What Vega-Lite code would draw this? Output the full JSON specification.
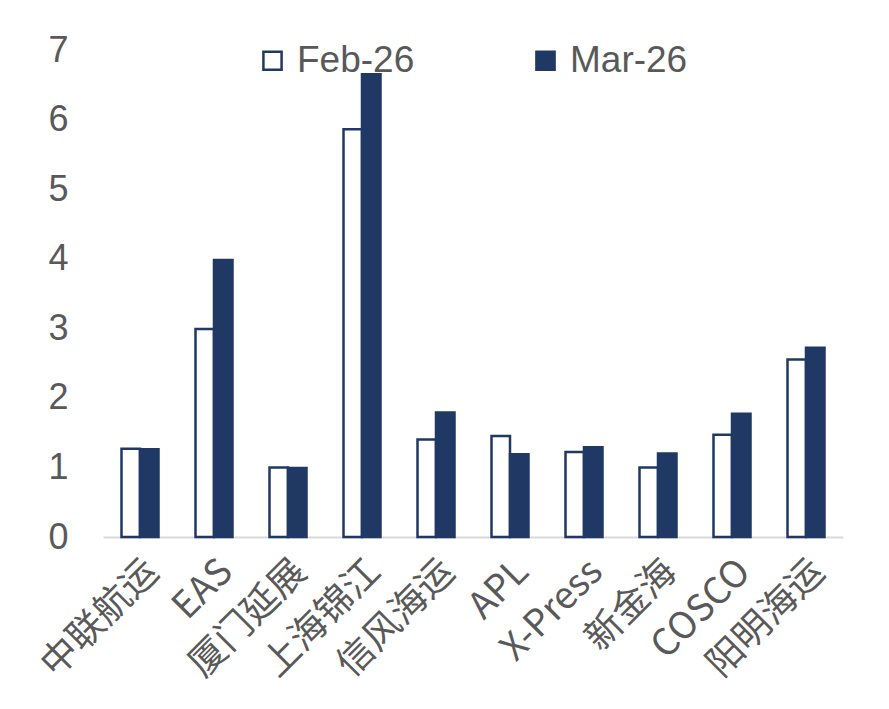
{
  "$schema": "https://vega.github.io/schema/vega-lite/v6.json",
  "autosize": {"type": "none"},
  "width": 740,
  "height": 487,
  "padding": {"left": 103, "top": 50, "right": 46, "bottom": 172},
  "background": "white",
  "config": {
    "view": {"stroke": null},
    "font": "Noto Sans CJK SC"
  },
  "data": {
    "values": [
      {"company": "中联航运", "month": "Feb-26", "value": 1.27},
      {"company": "中联航运", "month": "Mar-26", "value": 1.26},
      {"company": "EAS", "month": "Feb-26", "value": 2.99},
      {"company": "EAS", "month": "Mar-26", "value": 3.98},
      {"company": "厦门延展", "month": "Feb-26", "value": 1.0},
      {"company": "厦门延展", "month": "Mar-26", "value": 0.99},
      {"company": "上海锦江", "month": "Feb-26", "value": 5.86},
      {"company": "上海锦江", "month": "Mar-26", "value": 6.65},
      {"company": "信风海运", "month": "Feb-26", "value": 1.40},
      {"company": "信风海运", "month": "Mar-26", "value": 1.79},
      {"company": "APL", "month": "Feb-26", "value": 1.45},
      {"company": "APL", "month": "Mar-26", "value": 1.19},
      {"company": "X-Press", "month": "Feb-26", "value": 1.22},
      {"company": "X-Press", "month": "Mar-26", "value": 1.29},
      {"company": "新金海", "month": "Feb-26", "value": 1.0},
      {"company": "新金海", "month": "Mar-26", "value": 1.20},
      {"company": "COSCO", "month": "Feb-26", "value": 1.47},
      {"company": "COSCO", "month": "Mar-26", "value": 1.77},
      {"company": "阳明海运", "month": "Feb-26", "value": 2.55},
      {"company": "阳明海运", "month": "Mar-26", "value": 2.72}
    ]
  },
  "mark": {"type": "bar", "stroke": "#203864", "strokeWidth": 2.5},
  "encoding": {
    "x": {
      "field": "company",
      "type": "nominal",
      "sort": null,
      "scale": {"paddingInner": 0.5, "paddingOuter": 0.25},
      "axis": {
        "title": null,
        "labelAngle": -45,
        "labelFontSize": 37,
        "labelColor": "#595959",
        "labelPadding": 16,
        "ticks": false,
        "domainColor": "#D9D9D9",
        "domainWidth": 2,
        "labelLimit": 300
      }
    },
    "xOffset": {"field": "month", "type": "nominal", "sort": ["Feb-26", "Mar-26"]},
    "y": {
      "field": "value",
      "type": "quantitative",
      "scale": {"domain": [0, 7], "nice": false},
      "axis": {
        "title": null,
        "values": [0, 1, 2, 3, 4, 5, 6, 7],
        "grid": false,
        "domain": false,
        "ticks": false,
        "labelFontSize": 36,
        "labelColor": "#595959",
        "labelPadding": 35,
        "labelFont": "Liberation Sans"
      }
    },
    "fill": {
      "field": "month",
      "type": "nominal",
      "scale": {"domain": ["Feb-26", "Mar-26"], "range": ["#FFFFFF", "#203864"]},
      "legend": {
        "title": null,
        "orient": "none",
        "legendX": 151,
        "legendY": -8,
        "direction": "horizontal",
        "columns": 2,
        "columnPadding": 112,
        "symbolType": "square",
        "symbolSize": 330,
        "symbolStrokeColor": "#203864",
        "symbolStrokeWidth": 2.5,
        "labelFontSize": 37,
        "labelColor": "#595959",
        "labelFont": "Liberation Sans",
        "labelOffset": 6,
        "labelLimit": 300
      }
    }
  }
}
